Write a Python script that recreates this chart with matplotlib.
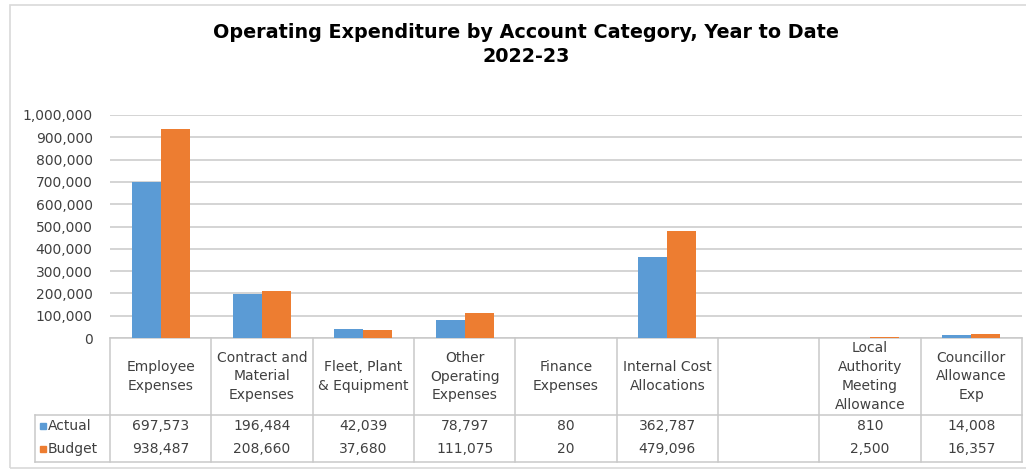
import numpy as np
import matplotlib
matplotlib.use("Agg")
import matplotlib.pyplot as plt
from matplotlib.transforms import blended_transform_factory
from matplotlib.patches import Rectangle

categories = ["Employee\nExpenses", "Contract and\nMaterial\nExpenses", "Fleet, Plant\n& Equipment",
              "Other\nOperating\nExpenses", "Finance\nExpenses", "Internal Cost\nAllocations", "",
              "Local\nAuthority\nMeeting\nAllowance", "Councillor\nAllowance\nExp"]
actual = [697573, 196484, 42039, 78797, 80, 362787, np.nan, 810, 14008]
budget = [938487, 208660, 37680, 111075, 20, 479096, np.nan, 2500, 16357]
series_names = ["Actual", "Budget"]
yticks = [0, 100000, 200000, 300000, 400000, 500000, 600000, 700000, 800000, 900000, 1000000]

BLUE = "#5B9BD5"
ORANGE = "#ED7D31"
GRID = "#C9C9C9"
TXT = "#404040"
FONT = "DejaVu Sans"

W, H = 1026, 470
fig = plt.figure(figsize=(W / 100, H / 100), dpi=100)
plt.rcParams['font.family'] = [FONT]

def fx(px):
    return px / W

def fy(py):
    return 1 - py / H

# outer frame
fig.patches.append(Rectangle((fx(10), fy(468)), fx(1040) - fx(10), fy(5) - fy(468),
                             transform=fig.transFigure, fill=False, edgecolor="#D9D9D9", lw=1.2))

ax_l, ax_r, ax_t, ax_b = 110, 1022, 115, 338
ax = fig.add_axes([fx(ax_l), fy(ax_b), fx(ax_r) - fx(ax_l), fy(ax_t) - fy(ax_b)])

x = np.arange(len(categories))
bw = 0.287
ax.bar(x - bw / 2, actual, width=bw, color=BLUE, zorder=3)
ax.bar(x + bw / 2, budget, width=bw, color=ORANGE, zorder=3)

ax.set_xlim(-0.5, len(categories) - 0.5)
ax.set_ylim(0, 1000000)
ax.set_yticks(yticks)
ax.set_yticklabels([f"{v:,.0f}" for v in yticks], fontsize=10, color=TXT)
ax.yaxis.grid(True, color=GRID, lw=1.1, zorder=0)
ax.set_xticks([])
ax.tick_params(axis="y", length=0, pad=12.5)
for s in ["top", "right", "left", "bottom"]:
    ax.spines[s].set_visible(False)
ax.set_axisbelow(True)

# title
fig.text(fx(526), fy(32), "Operating Expenditure by Account Category, Year to Date",
         ha="center", va="center", fontsize=13.8, fontweight="bold", color="black",
         family="DejaVu Sans")
fig.text(fx(526), fy(57), "2022-23", ha="center", va="center", fontsize=13.8,
         fontweight="bold", color="black", family="DejaVu Sans")

# data table
tr = blended_transform_factory(ax.transData, fig.transFigure)
y_top, y_hdr, y_bot = 338, 415, 462
row_centers = [426, 449]
n = len(categories)
# horizontal lines
ax.plot([-0.5, n - 0.5], [fy(y_top)] * 2, transform=tr, color=GRID, lw=1.1, clip_on=False)
for yy in (y_hdr, y_bot):
    fig.add_artist(plt.Line2D([fx(35), fx(ax_r)], [fy(yy)] * 2, transform=fig.transFigure,
                              color=GRID, lw=1.1))
# vertical lines
for b in np.arange(n + 1) - 0.5:
    ax.plot([b, b], [fy(y_top), fy(y_bot)], transform=tr, color=GRID, lw=1.1, clip_on=False)
fig.add_artist(plt.Line2D([fx(35), fx(35)], [fy(y_hdr), fy(y_bot)], transform=fig.transFigure,
                          color=GRID, lw=1.1))

for i, c in enumerate(categories):
    ax.text(i, fy((y_top + y_hdr) / 2), c, transform=tr, ha="center", va="center",
            fontsize=10, color=TXT, linespacing=1.45)
    for vals, yc in zip((actual, budget), row_centers):
        v = vals[i]
        if not np.isnan(v):
            ax.text(i, fy(yc), f"{v:,.0f}", transform=tr, ha="center", va="center",
                    fontsize=10, color=TXT)

for name, col, yc in zip(series_names, (BLUE, ORANGE), row_centers):
    fig.patches.append(Rectangle((fx(40), fy(yc + 3)), fx(6), fy(0) - fy(6),
                                 transform=fig.transFigure, color=col))
    fig.text(fx(48), fy(yc), name, ha="left", va="center", fontsize=10, color=TXT)

fig.savefig("out.png", dpi=100, facecolor="white")
